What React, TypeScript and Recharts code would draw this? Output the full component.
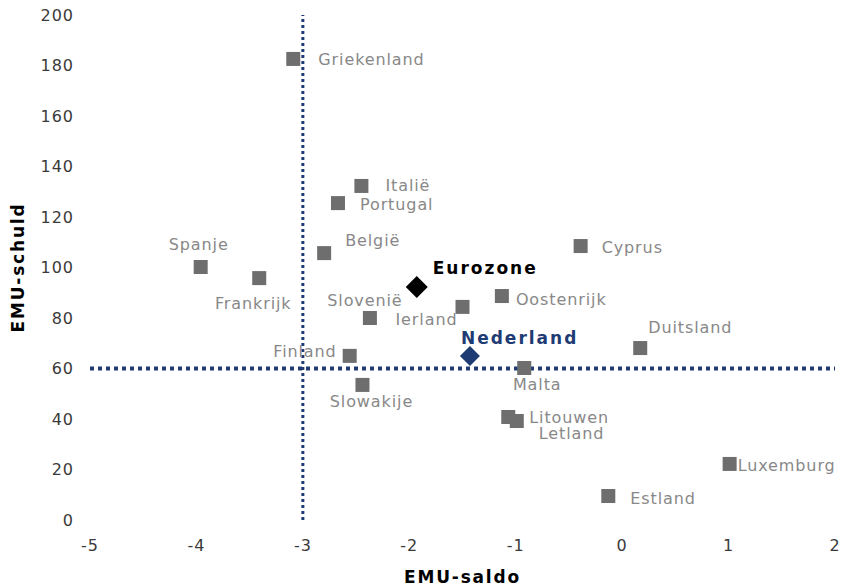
import React from "react";
import { ScatterChart, Scatter, XAxis, YAxis, ReferenceLine } from "recharts";

const countries = ["Griekenland", "Italië", "Portugal", "België", "Spanje", "Frankrijk", "Slovenië", "Ierland", "Oostenrijk", "Cyprus", "Duitsland", "Finland", "Malta", "Slowakije", "Litouwen", "Letland", "Luxemburg", "Estland"];
const saldo = [-3.09, -2.45, -2.67, -2.8, -3.96, -3.41, -2.37, -1.5, -1.13, -0.39, 0.17, -2.56, -0.92, -2.44, -1.07, -0.99, 1.01, -0.13];
const schuld = [182.6, 132.3, 125.5, 105.7, 100.2, 95.8, 80.0, 84.4, 88.7, 108.5, 68.1, 65.0, 60.2, 53.5, 40.8, 39.2, 22.2, 9.5];

const highlightNames = ["Eurozone", "Nederland"];
const highlightSaldo = [-1.93, -1.43];
const highlightSchuld = [92.3, 65.0];

const xTicks = [-5, -4, -3, -2, -1, 0, 1, 2];
const yTicks = [0, 20, 40, 60, 80, 100, 120, 140, 160, 180, 200];
const refSaldo = -3;
const refSchuld = 60;

const countryData = countries.map((name, i) => ({ name, x: saldo[i], y: schuld[i] }));
const highlightData = highlightNames.map((name, i) => ({ name, x: highlightSaldo[i], y: highlightSchuld[i] }));

const placement: Record<string, { dx: number; dy: number; anchor: "start" | "middle" | "end" }> = {
  Griekenland: { dx: 25, dy: 1, anchor: "start" },
  "Italië": { dx: 24, dy: 0, anchor: "start" },
  Portugal: { dx: 22, dy: 1, anchor: "start" },
  "België": { dx: 21, dy: -13, anchor: "start" },
  Spanje: { dx: -2, dy: -22, anchor: "middle" },
  Frankrijk: { dx: -6, dy: 25, anchor: "middle" },
  "Slovenië": { dx: -5, dy: -18, anchor: "middle" },
  Ierland: { dx: -5, dy: 13, anchor: "end" },
  Oostenrijk: { dx: 14, dy: 3, anchor: "start" },
  Cyprus: { dx: 21, dy: 1, anchor: "start" },
  Duitsland: { dx: 8, dy: -21, anchor: "start" },
  Finland: { dx: -13, dy: -4, anchor: "end" },
  Malta: { dx: 13, dy: 17, anchor: "middle" },
  Slowakije: { dx: 9, dy: 17, anchor: "middle" },
  Litouwen: { dx: 21, dy: 1, anchor: "start" },
  Letland: { dx: 22, dy: 12, anchor: "start" },
  Luxemburg: { dx: 8, dy: 2, anchor: "start" },
  Estland: { dx: 22, dy: 2, anchor: "start" },
  Eurozone: { dx: 16, dy: -19, anchor: "start" },
  Nederland: { dx: -9, dy: -18, anchor: "start" },
};

const FONT = "'DejaVu Sans', Verdana, sans-serif";
const NAVY = "#1f3b73";

const CountryShape = (props: any) => {
  const { cx, cy, payload } = props;
  const p = placement[payload.name];
  const s = 14;
  return (
    <g>
      <rect x={cx - s / 2} y={cy - s / 2} width={s} height={s} fill="#6e6e6e" />
      <text x={cx + p.dx} y={cy + p.dy} textAnchor={p.anchor} dominantBaseline="central" fontFamily={FONT} fontSize={16} letterSpacing={0.9} fill="#888888">
        {payload.name}
      </text>
    </g>
  );
};

const HighlightShape = (props: any) => {
  const { cx, cy, payload } = props;
  const p = placement[payload.name];
  const isEuro = payload.name === "Eurozone";
  const r = isEuro ? 11 : 10;
  const color = isEuro ? "#000000" : NAVY;
  return (
    <g>
      <polygon points={`${cx},${cy - r} ${cx + r},${cy} ${cx},${cy + r} ${cx - r},${cy}`} fill={color} />
      <text x={cx + p.dx} y={cy + p.dy} textAnchor={p.anchor} dominantBaseline="central" fontFamily={FONT} fontSize={17} letterSpacing={2} fontWeight="bold" fill={color}>
        {payload.name}
      </text>
    </g>
  );
};

export default function App() {
  return (
    <div style={{ position: "absolute", left: 0, top: 0, background: "#fff" }}>
      <ScatterChart width={855} height={587} margin={{ top: 15, right: 20, bottom: 17, left: 30 }}>
        <XAxis
          type="number"
          dataKey="x"
          domain={[-5, 2]}
          ticks={xTicks}
          axisLine={false}
          tickLine={false}
          tickSize={8}
          tickMargin={12}
          height={50}
          tick={{ fontFamily: FONT, fontSize: 16, letterSpacing: 1, fill: "#3a3a3a" }}
          label={{ value: "EMU-saldo", position: "insideBottom", offset: -13, style: { fontFamily: FONT, fontSize: 17, letterSpacing: 1.8, fontWeight: "bold", fill: "#000" } }}
        />
        <YAxis
          type="number"
          dataKey="y"
          domain={[0, 200]}
          ticks={yTicks}
          axisLine={false}
          tickLine={false}
          tickSize={8}
          tickMargin={8}
          width={60}
          tick={{ fontFamily: FONT, fontSize: 16, letterSpacing: 1, fill: "#3a3a3a" }}
          label={{ value: "EMU-schuld", angle: -90, position: "insideLeft", offset: -12, style: { fontFamily: FONT, fontSize: 17, letterSpacing: 1.8, fontWeight: "bold", fill: "#000", textAnchor: "middle" } }}
        />
        <ReferenceLine x={refSaldo} stroke={NAVY} strokeWidth={3} strokeDasharray="3 3" />
        <ReferenceLine y={refSchuld} stroke={NAVY} strokeWidth={4} strokeDasharray="4 4" />
        <Scatter data={countryData} shape={CountryShape} isAnimationActive={false} />
        <Scatter data={highlightData} shape={HighlightShape} isAnimationActive={false} />
      </ScatterChart>
    </div>
  );
}
